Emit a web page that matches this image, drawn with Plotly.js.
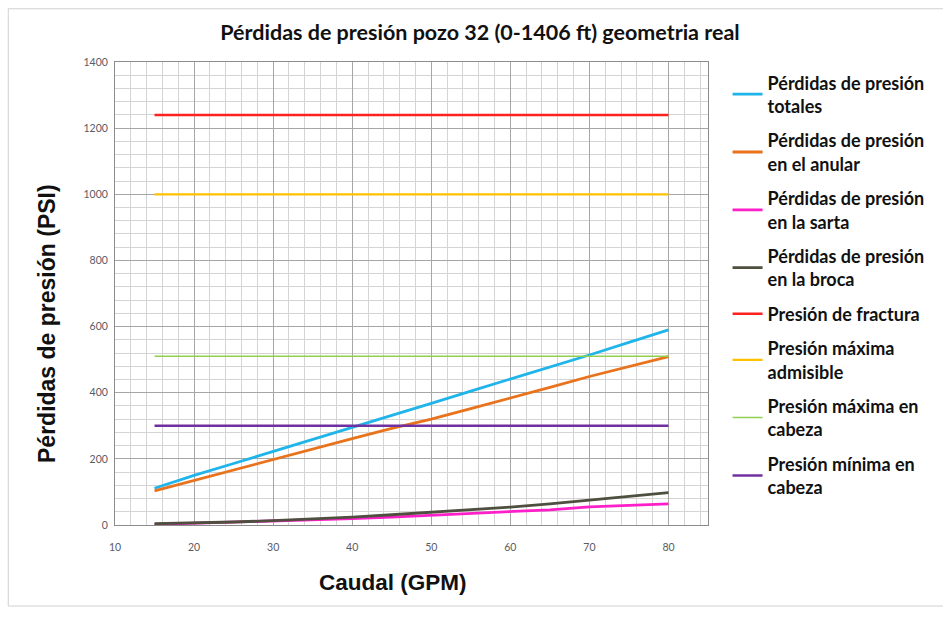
<!DOCTYPE html>
<html><head><meta charset="utf-8">
<script src="https://cdn.plot.ly/plotly-3.0.1.min.js"></script>
<style>body{margin:0;background:#fff}#c{width:943px;height:620px}</style>
</head><body><div id="c"></div>
<script>
const caudal = [15,20,25,30,35,40,45,50,55,60,65,70,75,80];
const totales = [111,150,186,222,259,296,332,368,405,441,478,514,552,590];
const anular = [103,135,166,197,229,261,292,320,352,383,416,449,479,509];
const sarta = [2,5,8,11,15,19,24,30,35,41,46,55,59,64];
const broca = [4,6,9,13,18,24,31,38,45,54,64,75,86,98];
const xRange = [15,80];
const fractura = [1240,1240];
const admisible = [1000,1000];
const maxCabeza = [510,510];
const minCabeza = [300,300];
const names = ["Pérdidas de presión<br>totales","Pérdidas de presión<br>en el anular","Pérdidas de presión<br>en la sarta","Pérdidas de presión<br>en la broca","Presión de fractura","Presión máxima<br>admisible","Presión máxima en<br>cabeza","Presión mínima en<br>cabeza"];
const colors = ["#1fb4ea","#e8731c","#ff1fc8","#4f4f3f","#ff2020","#ffc000","#92d050","#7030a0"];
const xTitle = 'Caudal (GPM)';
const yTitle = 'Pérdidas de presión (PSI)';

const series = [
  [caudal,totales,2.8],[caudal,anular,2.8],[caudal,sarta,2.8],[caudal,broca,2.8],
  [xRange,fractura,2.5],[xRange,admisible,2.2],[xRange,maxCabeza,1.5],[xRange,minCabeza,2.5]
];
const traces = series.map((s,i)=>({
  x:s[0], y:s[1], type:'scatter', mode:'lines', name:names[i], legendgroup:'g'+i,
  line:{color:colors[i], width:s[2]}
}));

const layout = {
  width:943, height:620,
  margin:{l:115,r:235,t:62,b:95},
  paper_bgcolor:'#fff', plot_bgcolor:'#fff',
  title:{text:'Pérdidas de presión pozo 32 (0-1406 ft) geometria real', x:0.509, xref:'container', xanchor:'center', y:0.947, yref:'container', yanchor:'middle',
    font:{family:'Lato, Open Sans, sans-serif', size:21.5, color:'#111', weight:'bold'}},
  xaxis:{range:[10,85], dtick:10, tick0:10, showgrid:true, gridcolor:'#a6a6a6', gridwidth:1,
    minor:{dtick:2, showgrid:true, gridcolor:'#d4d4d4'},
    showline:true, linecolor:'#8c8c8c', mirror:true, zeroline:false, ticks:'', ticklabelstandoff:12,
    tickfont:{family:'Lato, sans-serif', size:10.5, color:'#5a5a66'}},
  yaxis:{range:[0,1400], dtick:200, showgrid:true, gridcolor:'#a6a6a6',
    minor:{dtick:40, showgrid:true, gridcolor:'#d4d4d4'},
    showline:true, linecolor:'#8c8c8c', mirror:true, zeroline:false, ticks:'', ticklabelstandoff:4,
    tickfont:{family:'Lato, sans-serif', size:10.5, color:'#5a5a66'}},
  annotations:[
    {text:xTitle, xref:'paper', yref:'paper', x:(393-115)/593, y:-(582-525)/463, xanchor:'center', yanchor:'middle', showarrow:false,
      font:{family:'Liberation Sans, Arial, sans-serif', size:22.5, color:'#111', weight:'bold'}},
    {text:yTitle, xref:'paper', yref:'paper', x:-(115-47)/593, y:(525-324)/463, xanchor:'center', yanchor:'middle', textangle:-90, showarrow:false,
      font:{family:'Liberation Sans, Arial, sans-serif', size:23, color:'#111', weight:'bold'}}
  ],
  showlegend:true,
  legend:{x:1.033, xanchor:'left', y:0.995, yanchor:'top', tracegroupgap:8,
    font:{family:'Lato, Open Sans, sans-serif', size:18, color:'#111', weight:'bold'},
    bgcolor:'rgba(0,0,0,0)', itemwidth:30},
  shapes:[{type:'rect', xref:'paper', yref:'paper', x0:-0.18, x1:1.41, y0:-0.175, y1:1.115, line:{color:'#d0d0d0', width:1}}]
};
Plotly.newPlot('c', traces, layout, {displayModeBar:false});
</script></body></html>
